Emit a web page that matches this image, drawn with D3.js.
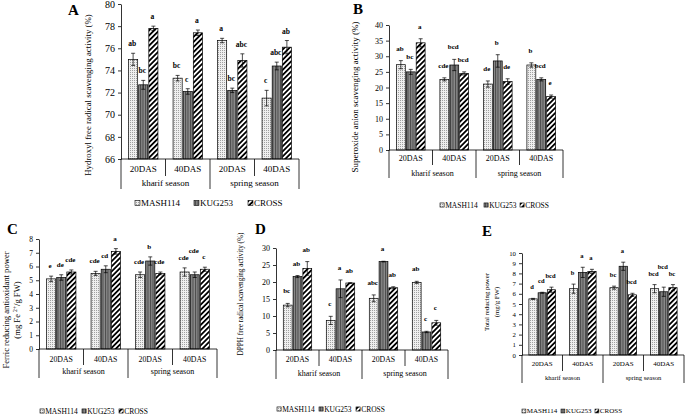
<!DOCTYPE html>
<html>
<head>
<meta charset="utf-8">
<script src="https://cdn.jsdelivr.net/npm/d3@7"></script>
<style>
  body { margin: 0; background: #fff; }
  text { font-family: "Liberation Serif", "Times New Roman", serif; fill: #000; }
</style>
</head>
<body>
<svg id="fig" width="685" height="416"></svg>
<script>
// categories
const days = ['20DAS', '40DAS', '20DAS', '40DAS'];
const seasons = ['kharif season', 'spring season'];
const cultivars = ['MASH114', 'KUG253', 'CROSS'];

// A: hydroxyl free radical scavenging (%), rows = MASH114, KUG253, CROSS
const hydroxylMean = [[75.0, 73.3, 76.7, 71.5], [72.7, 72.1, 72.2, 74.4], [77.8, 77.4, 74.9, 76.1]];
const hydroxylErr  = [[0.55, 0.25, 0.2, 0.7], [0.4, 0.25, 0.2, 0.35], [0.2, 0.25, 0.6, 0.6]];
const hydroxylSig  = [['ab', 'bc', 'a', 'c'], ['bc', 'c', 'bc', 'abc'], ['a', 'a', 'abc', 'ab']];

// B: superoxide anion scavenging (%)
const superoxideMean = [[27.3, 22.6, 21.1, 27.2], [25.0, 27.2, 28.5, 22.6], [34.3, 24.5, 21.9, 17.1]];
const superoxideErr  = [[1.3, 0.5, 1.0, 0.7], [0.8, 1.8, 2.0, 0.5], [1.3, 0.5, 0.9, 0.5]];
const superoxideSig  = [['ab', 'cde', 'de', 'b'], ['bc', 'bcd', 'b', 'bcd'], ['a', 'bcd', 'de', 'e']];

// C: FRAP (mg Fe2+/g FW)
const frapMean = [[5.1, 5.5, 5.4, 5.6], [5.2, 5.8, 6.4, 5.4], [5.6, 7.1, 5.5, 5.8]];
const frapErr  = [[0.2, 0.15, 0.2, 0.3], [0.2, 0.25, 0.3, 0.2], [0.15, 0.2, 0.1, 0.15]];
const frapSig  = [['e', 'cde', 'cde', 'cde'], ['de', 'cd', 'b', 'cde'], ['cde', 'a', 'cde', 'c']];

// D: DPPH scavenging (%)
const dpphMean = [[13.2, 8.7, 15.2, 19.9], [21.6, 18.0, 26.0, 5.3], [24.0, 19.7, 18.3, 8.0]];
const dpphErr  = [[0.5, 1.2, 1.0, 0.3], [0.3, 2.6, 0.1, 0.2], [2.0, 0.1, 0.3, 0.7]];
const dpphSig  = [['bc', 'c', 'abc', 'ab'], ['ab', 'a', 'a', 'c'], ['ab', 'ab', 'ab', 'c']];

// E: total reducing power (mg/g FW)
const trpMean = [[5.5, 6.5, 6.6, 6.5], [6.1, 8.1, 8.7, 6.2], [6.4, 8.2, 5.9, 6.6]];
const trpErr  = [[0.05, 0.45, 0.15, 0.4], [0.05, 0.5, 0.4, 0.45], [0.25, 0.2, 0.15, 0.3]];
const trpSig  = [['d', 'b', 'bc', 'bcd'], ['cd', 'a', 'a', 'bcd'], ['bcd', 'a', 'bcd', 'bc']];

const svg = d3.select('#fig');
const defs = svg.append('defs');

// fill patterns: stippled, vertical stripes, diagonal hatch
let pat = defs.append('pattern').attr('id', 'pMash').attr('patternUnits', 'userSpaceOnUse')
  .attr('width', 2).attr('height', 2);
pat.append('rect').attr('width', 2).attr('height', 2).attr('fill', '#efefef');
pat.append('rect').attr('width', 1).attr('height', 1).attr('fill', '#a0a0a0');

pat = defs.append('pattern').attr('id', 'pKug').attr('patternUnits', 'userSpaceOnUse')
  .attr('width', 2.5).attr('height', 4);
pat.append('rect').attr('width', 2.5).attr('height', 4).attr('fill', '#8a8a8a');
pat.append('rect').attr('width', 1).attr('height', 4).attr('fill', '#4a4a4a');

pat = defs.append('pattern').attr('id', 'pCross').attr('patternUnits', 'userSpaceOnUse')
  .attr('width', 3.6).attr('height', 3.6).attr('patternTransform', 'rotate(45)');
pat.append('rect').attr('width', 3.6).attr('height', 3.6).attr('fill', '#fff');
pat.append('rect').attr('width', 1.8).attr('height', 3.6).attr('fill', '#000');

const fills = ['url(#pMash)', 'url(#pKug)', 'url(#pCross)'];

const panels = [
  { tag: 'A', mean: hydroxylMean, err: hydroxylErr, sig: hydroxylSig, domain: [66, 80], step: 2,
    left: 121, right: 299, top: 4, bottom: 159, tagPos: [68, 15],
    ylab: { x: [88], y: 95, lines: ['Hydroxyl free radical scavenging activity (%)'], fs: 8.8 },
    catY: 169, seasonY: 183, innerY: 176, outerY: 189, sigGap: 7,
    fs: { tick: 10, cat: 9, season: 9, sig: 7.5, leg: 9 },
    legend: { xs: [135, 194, 248], y: 203 } },
  { tag: 'B', mean: superoxideMean, err: superoxideErr, sig: superoxideSig, domain: [0, 40], step: 5,
    left: 389, right: 563, top: 25, bottom: 150, tagPos: [353, 14],
    ylab: { x: [355], y: 97, lines: ['Superoxide anion scavenging activity (%)'], fs: 9 },
    catY: 158, seasonY: 173, innerY: 165, outerY: 178, sigGap: 10,
    fs: { tick: 8, cat: 8, season: 8, sig: 7, leg: 7.5 },
    legend: { xs: [440, 484, 520], y: 205 } },
  { tag: 'C', mean: frapMean, err: frapErr, sig: frapSig, domain: [0, 8], step: 1,
    left: 39, right: 217, top: 239, bottom: 349, tagPos: [7, 234],
    ylab: { x: [6, 17], y: 310, lines: ['Ferric reducing antioxidant power', 'frap'], fs: 8.6 },
    catY: 359, seasonY: 371, innerY: 365, outerY: 378, sigGap: 8,
    fs: { tick: 7.5, cat: 7.8, season: 8, sig: 7, leg: 7.5 },
    legend: { xs: [40, 82, 119], y: 411 } },
  { tag: 'D', mean: dpphMean, err: dpphErr, sig: dpphSig, domain: [0, 30], step: 5,
    left: 276, right: 448, top: 248, bottom: 350, tagPos: [255, 234],
    ylab: { x: [240], y: 294, lines: ['DPPH free radical scavenging activity (%)'], fs: 7.2 },
    catY: 359, seasonY: 373, innerY: 366, outerY: 379, sigGap: 10,
    fs: { tick: 8, cat: 7.8, season: 8, sig: 7, leg: 7.5 },
    legend: { xs: [277, 319, 356], y: 409 } },
  { tag: 'E', mean: trpMean, err: trpErr, sig: trpSig, domain: [0, 10], step: 1,
    left: 522, right: 684, top: 253, bottom: 355, tagPos: [482, 236],
    ylab: { x: [487, 497], y: 302, lines: ['Total reducing power', '(mg/g FW)'], fs: 6.8 },
    catY: 364, seasonY: 378, innerY: 371, outerY: 383, sigGap: 9,
    fs: { tick: 6.8, cat: 7, season: 6.6, sig: 6.5, leg: 7 },
    legend: { xs: [522, 561, 595], y: 411 } }
];

function drawPanel(p) {
  const g = svg.append('g');
  const y = d3.scaleLinear().domain(p.domain).range([p.bottom, p.top]);
  const x0 = d3.scaleBand().domain(d3.range(days.length)).range([p.left, p.right])
    .paddingInner(0.34).paddingOuter(0.17);
  const x1 = d3.scaleBand().domain(d3.range(cultivars.length)).range([0, x0.bandwidth()])
    .paddingInner(0.1);

  // value axis
  const yAxis = d3.axisLeft(y)
    .tickValues(d3.range(p.domain[0], p.domain[1] + p.step / 2, p.step))
    .tickSize(3).tickSizeOuter(0).tickPadding(3);
  const ax = g.append('g').attr('transform', `translate(${p.left},0)`).call(yAxis)
    .attr('font-family', '"Liberation Serif", serif').attr('font-size', p.fs.tick);
  ax.select('.domain').attr('stroke', '#000').attr('stroke-width', 0.8);
  ax.selectAll('.tick line').attr('stroke', '#000').attr('stroke-width', 0.8);
  ax.selectAll('.tick text').attr('fill', '#000');

  // bars
  const rows = [];
  p.mean.forEach((ser, s) => ser.forEach((v, i) =>
    rows.push({ s, i, v, e: p.err[s][i], t: p.sig[s][i] })));
  const base = y(p.domain[0]);

  g.selectAll('rect.bar').data(rows).join('rect').attr('class', 'bar')
    .attr('x', d => x0(d.i) + x1(d.s))
    .attr('y', d => y(d.v))
    .attr('width', x1.bandwidth())
    .attr('height', d => base - y(d.v))
    .attr('fill', d => fills[d.s])
    .attr('stroke', '#000').attr('stroke-width', 0.7);

  // error bars
  const cx = d => x0(d.i) + x1(d.s) + x1.bandwidth() / 2;
  const eb = g.selectAll('g.err').data(rows).join('g').attr('class', 'err')
    .attr('stroke', '#000').attr('stroke-width', 0.7);
  eb.append('line').attr('x1', cx).attr('x2', cx)
    .attr('y1', d => y(d.v - d.e)).attr('y2', d => y(d.v + d.e));
  eb.append('line').attr('x1', d => cx(d) - 2).attr('x2', d => cx(d) + 2)
    .attr('y1', d => y(d.v + d.e)).attr('y2', d => y(d.v + d.e));
  eb.append('line').attr('x1', d => cx(d) - 2).attr('x2', d => cx(d) + 2)
    .attr('y1', d => y(d.v - d.e)).attr('y2', d => y(d.v - d.e));

  // significance letters, pushed up when they would collide with a neighbour
  const placed = [];
  g.selectAll('text.sig').data(rows).join('text').attr('class', 'sig')
    .attr('x', d => cx(d) - 1)
    .attr('text-anchor', 'middle')
    .attr('fill', '#000')
    .attr('font-size', p.fs.sig).attr('font-weight', 'bold')
    .text(d => d.t)
    .each(function (d) {
      const w = this.getComputedTextLength();
      const lx = cx(d) - 1;
      let ly = y(d.v + d.e) - p.sigGap;
      let moved = true;
      while (moved) {
        moved = false;
        for (const o of placed) {
          if (Math.abs(o.x - lx) < (o.w + w) / 2 + 0.5 && Math.abs(o.y - ly) < p.fs.sig) {
            ly = o.y - p.fs.sig;
            moved = true;
          }
        }
      }
      placed.push({ x: lx, y: ly, w });
      d3.select(this).attr('y', ly);
    });

  // multi-level category axis
  const step = x0.step();
  g.append('line').attr('x1', p.left).attr('x2', p.right).attr('y1', base).attr('y2', base)
    .attr('stroke', '#000').attr('stroke-width', 0.8);
  d3.range(days.length + 1).forEach(k => {
    g.append('line')
      .attr('x1', p.left + k * step).attr('x2', p.left + k * step)
      .attr('y1', base).attr('y2', k % 2 === 0 ? p.outerY : p.innerY)
      .attr('stroke', '#000').attr('stroke-width', 0.8);
  });
  g.selectAll('text.cat').data(days).join('text').attr('class', 'cat')
    .attr('x', (d, i) => x0(i) + x0.bandwidth() / 2).attr('y', p.catY)
    .attr('dy', '0.35em').attr('text-anchor', 'middle').attr('font-size', p.fs.cat)
    .text(d => d);
  g.selectAll('text.season').data(seasons).join('text').attr('class', 'season')
    .attr('x', (d, i) => p.left + (2 * i + 1) * step).attr('y', p.seasonY)
    .attr('dy', '0.35em').attr('text-anchor', 'middle').attr('font-size', p.fs.season)
    .text(d => d);

  // panel tag
  g.append('text').attr('x', p.tagPos[0]).attr('y', p.tagPos[1])
    .attr('font-size', 15).attr('font-weight', 'bold').text(p.tag);

  // axis title
  p.ylab.lines.forEach((line, li) => {
    const t = g.append('text')
      .attr('transform', `translate(${p.ylab.x[li]},${p.ylab.y}) rotate(-90)`)
      .attr('text-anchor', 'middle').attr('dy', '0.35em').attr('font-size', p.ylab.fs);
    if (line === 'frap') {
      t.append('tspan').text('(mg Fe ');
      t.append('tspan').attr('font-size', p.ylab.fs * 0.65).attr('dy', -3).text('2+');
      t.append('tspan').attr('dy', 3).text('/g FW)');
    } else {
      t.text(line);
    }
  });

  // legend
  const sq = p.fs.leg * 0.55;
  cultivars.forEach((name, s) => {
    const lx = p.legend.xs[s];
    g.append('rect').attr('x', lx).attr('y', p.legend.y - sq / 2).attr('width', sq).attr('height', sq)
      .attr('fill', fills[s]).attr('stroke', '#000').attr('stroke-width', 0.6);
    g.append('text').attr('x', lx + sq + 1).attr('y', p.legend.y).attr('dy', '0.35em')
      .attr('font-size', p.fs.leg).text(name);
  });
}

panels.forEach(drawPanel);
</script>
</body>
</html>
